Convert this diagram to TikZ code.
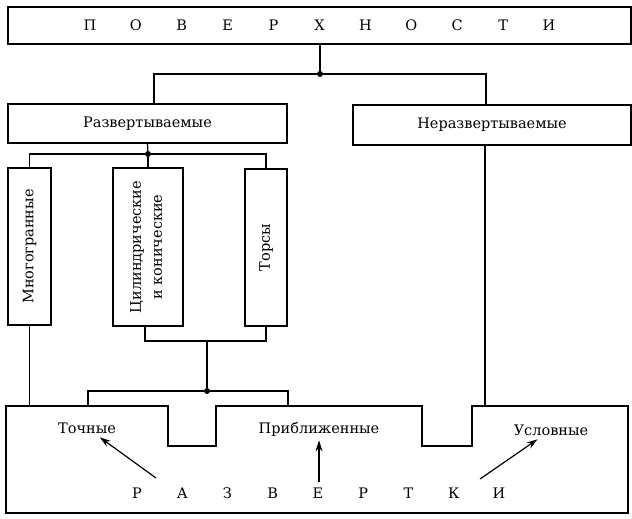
\documentclass[tikz,border=0pt]{standalone}
\usepackage{fontspec}
\usepackage{graphicx}
\setmainfont{DejaVu Serif}
\usetikzlibrary{arrows.meta,calc}
\tikzset{
  txt/.style={font=\fontsize{14.5}{17}\selectfont},
  box/.style={draw, line width=1.2pt, inner sep=0pt, txt},
  conn/.style={line width=1.2pt},
  dot/.style={circle, fill, inner sep=0pt, minimum size=6pt},
  lbl/.style={inner sep=2pt, txt},
  arr/.style={line width=1.2pt, -{Stealth[length=11pt,width=7pt]}},
  spaced/.style={inner sep=0pt, txt}
}
\newcommand{\spltr}[1]{\makebox[45.9pt]{#1}}
\newcommand{\spltrb}[1]{\makebox[45.25pt]{#1}}
\begin{document}
\begin{tikzpicture}[x=1pt,y=-1pt]
\useasboundingbox (0,0) rectangle (632,519);
% boxes
\node[box, minimum width=623pt, minimum height=37pt] (top) at (319.5,25.5)
  {\spltr{П}\spltr{О}\spltr{В}\spltr{Е}\spltr{Р}\spltr{Х}\spltr{Н}\spltr{О}\spltr{С}\spltr{Т}\spltr{И}};
\node[box, minimum width=279pt, minimum height=39pt] (razv) at (147.5,123.5) {Развертываемые};
\node[box, minimum width=278pt, minimum height=40pt] (nerazv) at (492,125) {Неразвертываемые};
\node[box, minimum width=43pt, minimum height=157pt] (mnogo) at (29.5,246.5) {\rotatebox{90}{Многогранные}};
\node[box, minimum width=70pt, minimum height=158pt] (cil) at (148,247)
  {\rotatebox{90}{\begin{tabular}{@{}c@{}}Цилиндрические\\[4pt]и конические\end{tabular}}};
\node[box, minimum width=42pt, minimum height=157pt] (tors) at (266,247.5) {\rotatebox{90}{Торсы}};
% bottom region
\coordinate (bl) at (6,406);
\coordinate (br) at (628,513);
\draw[conn] (bl) -- (168,406) -- (168,446) -- (216,446) -- (216,406) -- (422,406)
  -- (422,446) -- (472,446) -- (472,406) -- (628,406) -- (br) -- (6,513) -- cycle;
\coordinate (e1) at (29.5,406);
\coordinate (e2) at (88,406);
\coordinate (e3) at (288,406);
\coordinate (e4) at (485,406);
% junctions
\node[dot] (j1) at (320,74) {};
\node[dot] (j2) at (148,154) {};
\coordinate (j3) at (207,341);
\node[dot] (j4) at (207,391) {};
\draw[conn] (top.south -| j1) -- (j1);
\draw[conn] (razv.north -| 154,0) |- (j1) -| (nerazv.north -| 486,0);
\draw[conn] (razv.south) -- (j2);
\draw[conn] (mnogo.north) |- (j2) -| (tors.north);
\draw[conn] (cil.north) -- (j2);
\draw[conn] (cil.south -| 145,0) |- (j3) -| (tors.south);
\draw[conn] (j3) -- (j4);
\draw[conn] (e2) |- (j4) -| (e3);
\draw[conn] (mnogo.south) -- (e1);
\draw[conn] (nerazv.south -| e4) -- (e4);
% labels
\node[lbl] (tochn) at (87,428) {Точные};
\node[lbl] (pribl) at (319,429) {Приближенные};
\node[lbl] (uslov) at (551,430) {Условные};
\node[spaced] (razvertki) at (318,493)
  {\spltrb{Р}\spltrb{А}\spltrb{З}\spltrb{В}\spltrb{Е}\spltrb{Р}\spltrb{Т}\spltrb{К}\spltrb{И}};
\coordinate (s1) at (156,478);
\coordinate (s2) at (319,482);
\coordinate (s3) at (480,479);
\draw[arr, shorten >=3pt] (s1) -- (tochn);
\draw[arr, shorten >=2pt] (s2) -- (pribl);
\draw[arr, shorten >=3pt] (s3) -- (uslov);
\end{tikzpicture}
\end{document}
